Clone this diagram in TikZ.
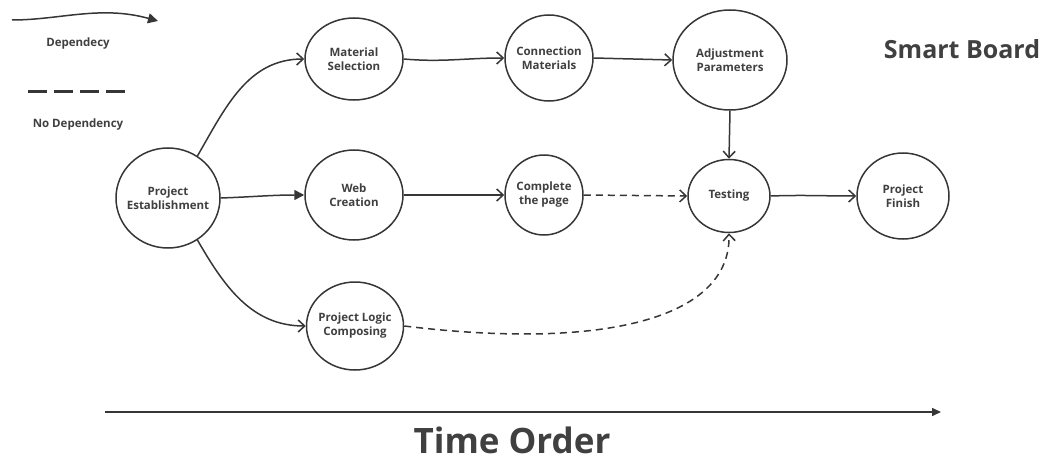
\documentclass[tikz,border=0pt]{standalone}
\usepackage{fontspec}
\setmainfont{Open Sans}
\usetikzlibrary{arrows.meta,shapes.geometric}
\definecolor{ink}{HTML}{363636}
\definecolor{txt}{HTML}{404040}
\begin{document}
\begin{tikzpicture}[x=1pt,y=-1pt,
  task/.style={ellipse,draw=ink,line width=1.5pt,fill=white,align=center,
    text=txt,font=\fontsize{11.5}{14}\selectfont\bfseries,
    inner xsep=-20pt,inner ysep=-12pt},
  dep/.style={draw=ink,line width=1.5pt,-{Straight Barb[length=6.5pt,width=12pt,line width=1.5pt]}},
  nodep/.style={dep,dash pattern=on 7pt off 5pt},
  solidtip/.style={draw=ink,line width=1.5pt,-{Triangle[length=10pt,width=10pt]}},
  lbl/.style={text=txt,font=\fontsize{11.5}{13}\selectfont\bfseries}]
\useasboundingbox (0,0) rectangle (1047,460);
% task bubbles
\node[task, minimum width=104pt, minimum height=100pt] (pe)  at (168,198) {Project\\Establishment};
\node[task, minimum width=98pt,  minimum height=82pt]  (ms)  at (354,59)  {Material\\Selection};
\node[task, minimum width=98pt,  minimum height=90pt]  (wc)  at (354,195) {Web\\Creation};
\node[task, minimum width=97pt,  minimum height=88pt]  (plc) at (355,326) {Project Logic\\Composing};
\node[task, minimum width=88pt,  minimum height=86pt]  (cm)  at (549,58)  {Connection\\Materials};
\node[task, minimum width=78pt,  minimum height=80pt]  (cp)  at (544,195) {Complete\\the page};
\node[task, minimum width=114pt, minimum height=100pt] (ap)  at (730,60)  {Adjustment\\Parameters};
\node[task, minimum width=82pt,  minimum height=73pt]  (te)  at (729,196) {Testing};
\node[task, minimum width=92pt,  minimum height=86pt]  (pf)  at (903,196) {Project\\Finish};
% dependencies
\draw[dep] (pe.55) to[out=60,in=180] (ms.west);
\draw[solidtip] (pe.east) to[out=2,in=180] (wc.west);
\draw[dep] (pe.-55) to[out=-60,in=180] (plc.west);
\draw[dep] (ms.east) to[out=-5,in=180] (cm.west);
\draw[dep] (cm.east) -- (ap.west);
\draw[dep] (ap.south) -- (te.north);
\draw[dep] (wc.east) -- (cp.west);
\draw[dep] (te.east) to[out=2,in=180] (pf.west);
\draw[nodep] (cp.east) -- (te.west);
\draw[nodep] (plc.east) .. controls (600,350) and (731,320) .. (te.south);
% legend
\coordinate (la) at (12,20);
\coordinate (lb) at (158,21);
\draw[solidtip] (la) .. controls (60,20) and (100,5) .. (lb);
\node[lbl] (ldep) at (78,44) {Dependecy};
\coordinate (lc) at (28,91);
\coordinate (ld) at (126,91);
\draw[ink,line width=3pt,dash pattern=on 19pt off 7pt] (lc) -- (ld);
\node[lbl] (lnodep) at (78,125) {No Dependency};
\node[text=txt,font=\fontsize{25}{27}\selectfont\bfseries] (title) at (962,49) {Smart Board};
% time axis
\coordinate (ta) at (105,412);
\coordinate (tb) at (941,412);
\draw[ink,line width=1.5pt,-{Triangle[length=9pt,width=8pt]}] (ta) -- (tb);
\node[text=txt,font=\fontsize{35}{37}\selectfont\bfseries] (time) at (512,440) {Time Order};
\end{tikzpicture}
\end{document}
